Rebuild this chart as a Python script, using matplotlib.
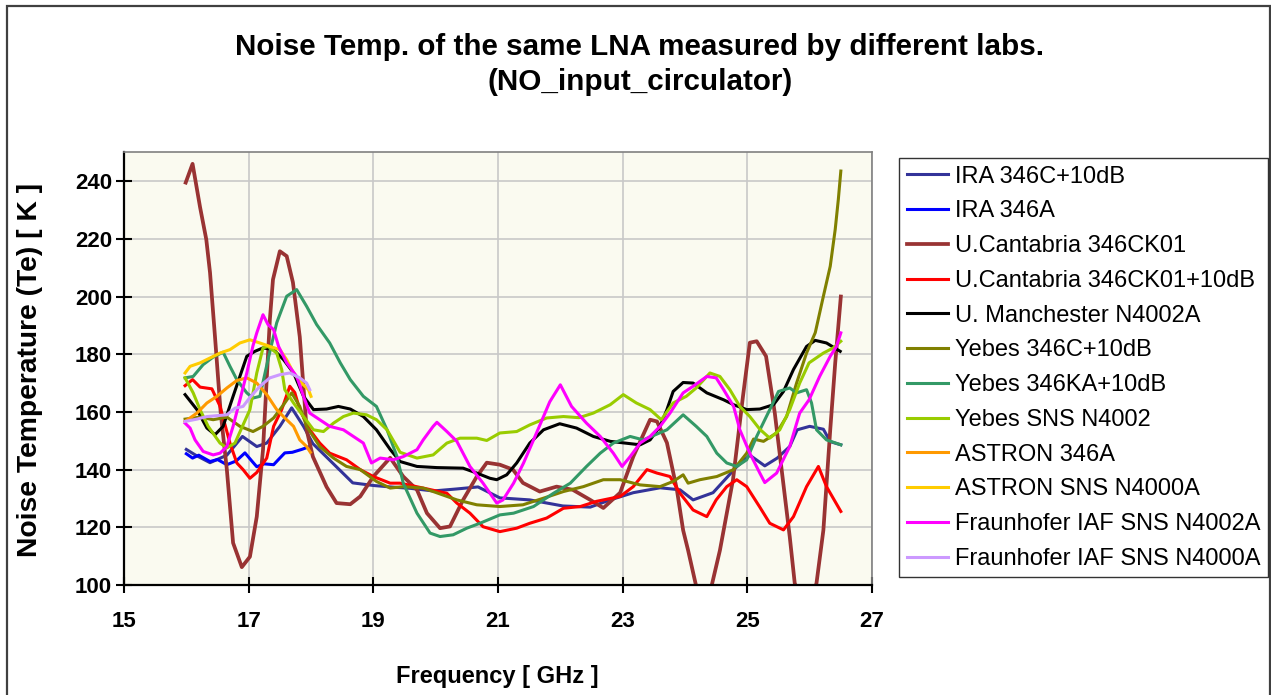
import matplotlib
matplotlib.use("Agg")
import matplotlib.pyplot as plt
from matplotlib.patches import Rectangle

plt.rcParams['font.family'] = ['Liberation Sans', 'DejaVu Sans']

labels = ["IRA 346C+10dB", "IRA 346A", "U.Cantabria 346CK01", "U.Cantabria 346CK01+10dB",
          "U. Manchester N4002A", "Yebes 346C+10dB", "Yebes 346KA+10dB", "Yebes SNS N4002",
          "ASTRON 346A", "ASTRON SNS N4000A", "Fraunhofer IAF SNS N4002A", "Fraunhofer IAF SNS N4000A"]
colors = ['#333399', '#0000FF', '#993333', '#FF0000', '#000000', '#808000', '#339966', '#99CC00',
          '#FF9900', '#FFCC00', '#FF00FF', '#CC99FF']

ira346c_f = [16.0,16.15,16.38,16.65,16.9,17.13,17.29,17.5,17.69,17.88,18.03,18.36,18.67,19.0,19.27,19.6,19.96,20.34,20.68,21.03,21.51,22.04,22.48,22.8,23.17,23.6,23.92,24.13,24.45,24.83,25.04,25.28,25.48,25.68,25.8,26.0,26.22,26.33,26.5]
ira346c_t = [147,145,142.4,145,151.5,148,149.2,155,161.4,155,149,142,135.4,134.5,134,133.5,132.6,133.3,134,130.2,129.5,127.4,127,129.5,132,133.7,133,129.5,132,141,145,141.3,144,148,153.8,155,154,149.7,148.6]

ira346a_f = [16.0,16.1,16.2,16.38,16.5,16.65,16.8,16.94,17.05,17.13,17.25,17.4,17.5,17.58,17.7,17.85,17.98]
ira346a_t = [145.5,144,145,142.8,143.5,141.7,143,145.8,143,141,142,141.7,144,145.8,146,147,148]

uc_f = [15.99,16.1,16.22,16.32,16.38,16.46,16.55,16.65,16.75,16.89,17.02,17.13,17.23,17.34,17.39,17.5,17.61,17.71,17.82,17.93,18.03,18.25,18.41,18.63,18.79,19.0,19.27,19.48,19.7,19.86,20.07,20.23,20.44,20.66,20.82,21.03,21.24,21.4,21.67,21.94,22.2,22.48,22.69,22.96,23.17,23.44,23.55,23.71,23.87,23.97,24.05,24.3,24.56,24.77,24.93,25.04,25.15,25.3,25.44,25.57,25.68,25.76,25.95,26.11,26.22,26.33,26.41,26.5]
uc_t = [239.5,246,231,219.8,208.3,186,160,140,114.6,106.2,109.8,123.7,146.9,192,205.9,215.7,214,204.9,186,153.8,144.5,134,128.4,128,130.7,137.6,144.1,137.6,133,124.9,119.7,120.3,129.5,137.6,142.4,141.7,140,135.4,132.4,134.1,133,129.5,126.7,132,144.5,157.3,156.7,149.3,133,119,112,88,112,136.5,165.4,184,184.5,179.3,159.7,136.5,116.8,100.7,88,100.7,119,153.8,177,200]

uc10_f = [15.98,16.1,16.22,16.41,16.54,16.7,16.81,16.91,17.02,17.13,17.29,17.4,17.53,17.66,17.74,17.82,17.98,18.14,18.3,18.57,18.79,19.0,19.27,19.43,19.8,20.18,20.34,20.55,20.76,21.03,21.3,21.51,21.78,22.05,22.32,22.58,22.96,23.17,23.39,23.55,23.76,23.92,24.13,24.35,24.5,24.67,24.83,24.99,25.2,25.36,25.58,25.74,25.95,26.14,26.27,26.5]
uc10_t = [169.1,171.2,168.6,168,162,149.2,142.3,140,137,139,144,155,160.8,168.9,166.7,160.8,153.8,149.2,145.7,143.4,140,137.6,135.3,135.3,133.6,131.8,128.4,124.9,120.2,118.5,119.7,121.4,123.2,126.6,127.2,129,130.7,134.1,140,138.8,137.6,131.8,126,123.7,129.5,134.1,136.5,134.1,127,121.4,119.1,123.7,134.1,141.1,134.1,125.5]

man_f = [15.98,16.17,16.33,16.46,16.59,16.75,16.97,17.1,17.23,17.4,17.56,17.72,17.88,18.04,18.25,18.44,18.63,18.84,19.05,19.27,19.43,19.7,20.02,20.44,20.66,20.87,20.98,21.14,21.3,21.51,21.73,21.99,22.26,22.53,22.8,23.28,23.44,23.6,23.71,23.81,23.97,24.13,24.35,24.62,24.78,24.99,25.2,25.42,25.58,25.74,25.95,26.09,26.27,26.49]
man_t = [166,160.8,154.4,152.1,155,165.4,179.3,181,182.2,181.6,178.1,173.5,165.4,160.8,161,161.9,161,158.4,153.8,147,142.8,141.1,140.7,140.5,138.8,137,136.5,138.2,142.3,149.2,153.8,155.9,154.4,151.5,149.8,148.6,150.3,155,160.8,167.1,170.2,170,166.6,164.2,162.5,160.8,161,162.5,167.1,174.7,182.7,184.8,183.9,181]

y346c_f = [15.98,16.22,16.43,16.65,16.86,17.07,17.23,17.4,17.56,17.69,17.82,17.93,18.14,18.36,18.57,18.79,19.05,19.27,19.48,19.8,19.96,20.34,20.66,21.03,21.4,21.73,22.05,22.37,22.69,22.96,23.28,23.6,23.81,23.97,24.05,24.24,24.51,24.78,24.99,25.1,25.26,25.47,25.63,25.79,25.95,26.09,26.22,26.33,26.41,26.46,26.5]
y346c_t = [157.5,158.2,157.3,158.2,155,153.2,155,157.9,162.5,166.6,161.9,155,148,144,141.1,140,135.9,133.6,134.1,133.6,132.4,129.5,127.8,127.2,127.8,130.1,132.4,134.1,136.5,136.5,134.7,134.1,135.9,138.2,135.3,136.5,137.6,140,145.7,150.6,149.8,152.7,158.4,170,180.4,187.5,200.1,210.5,223.3,233.7,243.5]

y346ka_f = [15.98,16.11,16.27,16.43,16.59,16.7,16.81,16.97,17.07,17.18,17.31,17.45,17.61,17.77,17.93,18.09,18.3,18.47,18.63,18.84,19.05,19.22,19.38,19.48,19.7,19.91,20.07,20.28,20.5,20.71,21.03,21.25,21.57,21.89,22.16,22.42,22.64,22.85,23.12,23.33,23.71,23.97,24.18,24.35,24.51,24.67,24.83,24.99,25.15,25.36,25.5,25.68,25.79,25.95,26.03,26.11,26.27,26.5]
y346ka_t = [171.8,172.3,176.4,179,180.7,175.8,171.2,166.6,164.8,165.4,178.1,190.9,200.1,202.4,196.6,190.3,183.9,177,171.2,165.4,161.9,153.8,144.5,135.3,124.9,118,116.8,117.4,119.7,121.4,124.3,124.9,127.2,131.8,135.3,141.1,145.7,149.2,151.5,150.3,153.8,159,155,151.5,145.7,142.3,141.1,143.4,151.5,160.8,167.1,168.3,166.6,167.7,163.1,153.8,150.3,148.6]

ysns_f = [15.98,16.11,16.22,16.35,16.54,16.65,16.78,16.91,17.02,17.13,17.23,17.31,17.45,17.53,17.58,17.72,17.88,18.04,18.2,18.36,18.52,18.68,18.89,19.05,19.22,19.43,19.7,19.96,20.18,20.39,20.66,20.82,21.03,21.3,21.51,21.78,22.05,22.3,22.53,22.8,23.01,23.22,23.44,23.62,23.81,24.02,24.18,24.4,24.56,24.72,24.88,25.04,25.2,25.36,25.52,25.68,25.84,25.99,26.22,26.38,26.5]
ysns_t = [171.8,166.6,160.8,155,149.2,147.5,149.2,155.5,160.8,173.5,182.2,182.7,180.4,174.7,167.7,163.1,158.4,153.8,153.2,156.1,158.4,159.6,159,157.3,153.8,146,144,145.1,149.2,150.9,150.9,150.1,152.7,153.2,155.5,157.9,158.4,158,159.6,162.5,166,163.1,160.8,157.3,163.1,165.4,168.3,173.5,172.3,167.7,161.9,158.4,154,150.9,153.8,160.8,170,177,180.4,182.2,184.5]

ast346a_f = [15.98,16.17,16.33,16.49,16.65,16.81,16.97,17.13,17.29,17.45,17.58,17.72,17.82,17.93,17.99]
ast346a_t = [156.7,159.6,163.1,165.4,168.3,170.9,171.8,170,166,160.8,157.9,155,150.3,148,146]

astsns_f = [15.98,16.06,16.22,16.38,16.54,16.7,16.86,17.02,17.18,17.34,17.5,17.61,17.72,17.85,17.96,18.0]
astsns_t = [173.5,175.8,177,178.7,180.4,181.6,183.9,185,183.9,182.7,181.6,178.1,173.5,170,167.7,165.4]

fh4002_f = [15.98,16.06,16.14,16.27,16.43,16.54,16.65,16.75,16.86,16.97,17.07,17.13,17.23,17.31,17.4,17.48,17.61,17.77,17.88,17.98,18.14,18.3,18.52,18.68,18.84,18.97,19.11,19.32,19.48,19.7,19.8,19.96,20.02,20.18,20.34,20.55,20.76,20.98,21.08,21.25,21.41,21.57,21.73,21.83,22.0,22.18,22.42,22.64,22.85,22.99,23.12,23.28,23.44,23.6,23.76,23.97,24.13,24.35,24.5,24.62,24.78,24.88,25.04,25.2,25.28,25.47,25.68,25.84,25.99,26.16,26.33,26.43,26.5]
fh4002_t = [156.1,154.4,150.3,146.3,145.1,145.7,148,155,164.2,173.5,183,187.4,193.7,190.3,188.5,182.7,177,172.3,165.4,159.6,157.3,155,153.8,151.5,149.2,142.3,144,143.4,144.5,146.9,150.3,155,156.4,153.2,149.8,141.1,135.3,128.4,129.5,135.3,142.3,150.3,158.4,163.5,169.4,161.9,156.1,151.5,145.7,141.1,144.5,149.2,151.5,155,159.6,166.6,168.9,172.3,171.8,167.7,161.9,153.8,145.7,138.8,135.5,138.8,148,159.6,164.2,172.3,179.3,182.7,187.4]

fh4000_f = [15.98,16.17,16.33,16.49,16.65,16.78,16.91,17.02,17.18,17.34,17.5,17.66,17.82,17.93,17.98]
fh4000_t = [156.7,157.5,158.4,158.7,159,161.3,161.9,165,168.9,171.8,172.9,173.5,171.8,170,167.7]

series = [(ira346c_f, ira346c_t), (ira346a_f, ira346a_t), (uc_f, uc_t), (uc10_f, uc10_t),
          (man_f, man_t), (y346c_f, y346c_t), (y346ka_f, y346ka_t), (ysns_f, ysns_t),
          (ast346a_f, ast346a_t), (astsns_f, astsns_t), (fh4002_f, fh4002_t), (fh4000_f, fh4000_t)]

xticks = [15, 17, 19, 21, 23, 25, 27]
yticks = [100, 120, 140, 160, 180, 200, 220, 240]

W, H = 1271, 695
fig = plt.figure(figsize=(W/100, H/100), dpi=100)
fig.patch.set_facecolor('white')

# outer chart border
fig.patches.append(Rectangle((7/W, -0.05), (1270-7)/W, (H-6)/H + 0.05, transform=fig.transFigure,
                             fill=False, edgecolor='#404040', linewidth=1.6))

ax = fig.add_axes([124/W, (H-585)/H, (872-124)/W, (585-152.3)/H])
ax.set_facecolor('#FAFAF0')

for (f, t), c, lab in zip(series, colors, labels):
    lw = 2.7 if c == '#993333' else 2.2
    ax.plot(f, t, color=c, lw=lw, label=lab, solid_joinstyle='round')

ax.set_xlim(15, 27)
ax.set_ylim(100, 250)
ax.set_xticks(xticks)
ax.set_yticks(yticks)
ax.grid(True, color='#C8C8C8', lw=1.2)
ax.set_axisbelow(True)
for s in ['top', 'right']:
    ax.spines[s].set_color('#808080')
    ax.spines[s].set_linewidth(1.2)
for s in ['left', 'bottom']:
    ax.spines[s].set_color('black')
    ax.spines[s].set_linewidth(1.6)
ax.tick_params(axis='both', direction='inout', length=12, width=1.5, labelsize=16)
ax.tick_params(axis='x', pad=13)
ax.tick_params(axis='y', pad=2.5)
for lbl in ax.get_xticklabels() + ax.get_yticklabels():
    lbl.set_fontweight('bold')

fig.text(0.5035, 1-47/H, "Noise Temp. of the same LNA measured by different labs.", ha='center', va='center',
         fontsize=21.3, fontweight='bold')
fig.text(0.5035, 1-82/H, "(NO_input_circulator)", ha='center', va='center', fontsize=21.3, fontweight='bold')
fig.text(497/W, 1-677/H, "Frequency [ GHz ]", ha='center', va='center', fontsize=17, fontweight='bold')
fig.text(30/W, 1-370/H, "Noise Temperature (Te) [ K ]", ha='center', va='center', rotation=90,
         fontsize=20.3, fontweight='bold')

leg = fig.legend(loc='upper left', bbox_to_anchor=(899/W, 1-158/H), fontsize=17, frameon=True,
                 fancybox=False, borderaxespad=0, handlelength=1.75, handletextpad=0.3,
                 labelspacing=0.54, borderpad=0.32)
leg.get_frame().set_edgecolor('black')
leg.get_frame().set_linewidth(1.0)

fig.savefig('out.png', dpi=100)
